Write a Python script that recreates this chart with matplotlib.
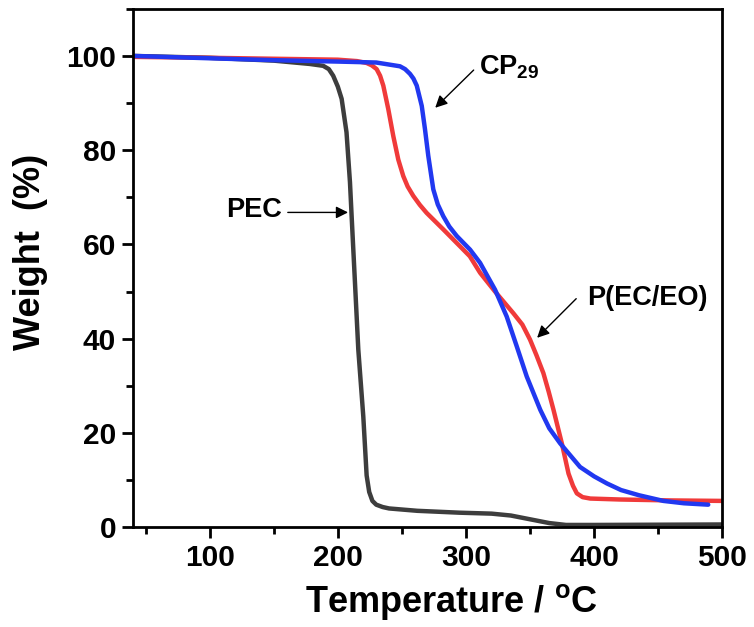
import matplotlib
matplotlib.use("Agg")
import matplotlib.pyplot as plt
from matplotlib.ticker import MultipleLocator

plt.rcParams['font.family'] = ['Liberation Sans', 'DejaVu Sans']
plt.rcParams['font.weight'] = 'bold'
plt.rcParams['mathtext.fontset'] = 'custom'
plt.rcParams['mathtext.rm'] = 'Liberation Sans:bold'
plt.rcParams['mathtext.bf'] = 'Liberation Sans:bold'
plt.rcParams['mathtext.default'] = 'bf'

# PEC (black)
pec_t = [40, 100, 150, 178, 188.6, 193, 196.4, 200, 203, 206.8, 209.5, 210.8, 213.4, 216, 219.9,
         222.5, 224.5, 227, 230, 235, 240, 262, 295, 320, 335, 350, 365, 378, 400, 500]
pec_w = [100, 99.6, 99.0, 98.3, 97.9, 97.2, 95.8, 93.5, 90.9, 83.8, 73.2, 66, 51.9, 37.7, 23.5,
         11, 7.5, 5.6, 4.8, 4.3, 4.0, 3.5, 3.1, 2.9, 2.5, 1.7, 0.9, 0.5, 0.5, 0.6]

# P(EC/EO) (red)
peceo_t = [40, 100, 150, 200, 215, 222.5, 226.5, 230.3, 233, 235.5, 239.4, 243.3, 247.2, 251.1,
           254.5, 258.9, 264, 269.3, 282.3, 295.4, 303, 311, 322.7, 337, 344, 350, 355, 360.4,
           364.5, 368.3, 374.8, 380, 383.5, 386.5, 391, 397, 420, 460, 500]
peceo_w = [99.8, 99.6, 99.4, 99.2, 98.9, 98.5, 98, 97.2, 95.8, 93.7, 88.7, 83, 78, 74.5,
           72.3, 70.3, 68.4, 66.7, 63.2, 59.6, 57.5, 54, 50, 45.4, 43, 39.8, 36.5, 32.7,
           28.8, 24.9, 17.8, 11.4, 8.8, 7.2, 6.4, 6.1, 5.9, 5.7, 5.6]

# CP29 (blue)
cp_t = [40, 100, 150, 200, 230, 248.5, 252.5, 256.3, 259, 261.6, 265.5, 268, 270.6, 274.5, 278,
        282.3, 287, 292.8, 303.2, 311, 322.7, 331.8, 339.6, 347.4, 358, 365, 373.5, 389, 400,
        410, 421, 435, 454, 470, 489]
cp_w = [100, 99.5, 99.1, 98.8, 98.6, 97.8, 97.2, 96.2, 95.2, 93.7, 89.4, 84.5, 78.8, 71.7, 68.5,
        66, 63.8, 61.8, 58.9, 56.1, 50.4, 44.7, 38.4, 32, 24.9, 21, 17.8, 12.8, 10.8,
        9.3, 7.9, 6.8, 5.6, 5.1, 4.8]

fig = plt.figure(figsize=(7.54, 6.27), dpi=100)
ax = fig.add_axes([0.176, 0.159, 0.782, 0.827])

lw = 3.2
kw = dict(lw=lw, solid_joinstyle='round', solid_capstyle='round')
ax.plot(pec_t, pec_w, color='#3d3d3d', **kw)
ax.plot(peceo_t, peceo_w, color='#f03a3a', **kw)
ax.plot(cp_t, cp_w, color='#2138f0', **kw)

ax.set_xlim(40, 500)
ax.set_ylim(0, 110)
ax.xaxis.set_major_locator(MultipleLocator(100))
ax.xaxis.set_minor_locator(MultipleLocator(50))
ax.yaxis.set_major_locator(MultipleLocator(20))
ax.yaxis.set_minor_locator(MultipleLocator(10))
ax.tick_params(which='major', direction='out', length=8, width=2, labelsize=21.5, pad=4)
ax.tick_params(which='minor', direction='out', length=5, width=2)
for lab in ax.get_xticklabels() + ax.get_yticklabels():
    lab.set_fontweight('bold')
for s in ax.spines.values():
    s.set_linewidth(2)

ax.set_xlabel(r'Temperature / $^{\mathbf{o}}$C', fontsize=26, fontweight='bold', labelpad=7)
ax.set_ylabel('Weight  (%)', fontsize=26, fontweight='bold', labelpad=13)
ax.xaxis.label.set_x(0.54)
ax.yaxis.label.set_y(0.531)

ap = dict(arrowstyle='-|>', lw=1, color='black', mutation_scale=18, shrinkA=0, shrinkB=0)
ax.annotate('', xy=(276, 89), xytext=(306, 97), arrowprops=ap)
ax.text(310, 97.5, r'CP$_{\mathbf{29}}$', fontsize=19.5, fontweight='bold', ha='left', va='center')
ax.annotate('', xy=(208, 66.8), xytext=(161, 66.8), arrowprops=ap)
ax.text(156.5, 67.4, 'PEC', fontsize=19.5, fontweight='bold', ha='right', va='center')
ax.annotate('', xy=(355.5, 40.2), xytext=(386, 48.5), arrowprops=ap)
ax.text(394.6, 48.6, 'P(EC/EO)', fontsize=19.5, fontweight='bold', ha='left', va='center')

fig.savefig('out.png', dpi=100)
